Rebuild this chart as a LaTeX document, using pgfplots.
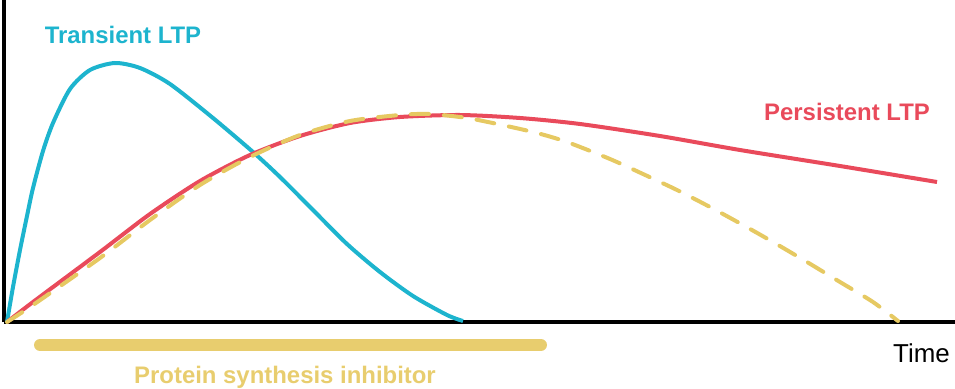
\documentclass[border=0pt]{standalone}
\usepackage{fontspec}
\setmainfont{Liberation Sans}
\usepackage{pgfplots}
\pgfplotsset{compat=1.18}
\definecolor{cyanc}{HTML}{1DB4CE}
\definecolor{redc}{HTML}{E94A5B}
\definecolor{yelc}{HTML}{E6C962}
\definecolor{yelt}{HTML}{E8CD6E}
\begin{document}
\begin{tikzpicture}
\useasboundingbox (-4bp,-67bp) rectangle (951bp,322bp);
\begin{axis}[
  at={(0,0)}, anchor=south west,
  x=1bp, y=1bp,
  xmin=4, xmax=955, ymin=0, ymax=322,
  axis x line=bottom, axis y line=left,
  axis line style={-, line width=4bp, black},
  xtick=\empty, ytick=\empty,
  clip=false,
]
\addplot[cyanc, line width=4bp, smooth, tension=0.45] coordinates {
(7,0) (13,35) (20,72) (27,106) (33,134) (43,171) (53,199) (70,233) (90,252) (115,259) (140,254) (170,238) (213,204) (253,170) (280,145) (313,112) (347,78) (380,50) (413,26) (447,7) (463,1)
};
\addplot[redc, line width=4bp, smooth, tension=0.45] coordinates {
(7,0) (33,20) (100,70) (150,108) (200,141) (250,167) (300,186) (350,199) (400,205) (460,207) (520,204) (580,198) (660,186) (740,172) (840,156) (937,140)
};
\addplot[yelc, line width=4bp, smooth, tension=0.45, line cap=round, dash pattern=on 18bp off 15bp] coordinates {
(7,0) (33,17) (100,64) (150,102) (200,137) (250,165) (300,187) (350,201) (400,207) (430,208) (467,204) (502,197) (537,189) (567,180) (610,163) (643,148) (677,132) (710,115) (743,97) (773,80) (807,60) (840,40) (873,20) (898,1)
};
\addplot[yelt, line width=12bp, line cap=round] coordinates {(40,-23) (541,-23)};
\node[anchor=base, text=cyanc, font=\fontsize{24}{28}\selectfont\bfseries] at (axis cs:123,279) {Transient LTP};
\node[anchor=base, text=redc, font=\fontsize{24}{28}\selectfont\bfseries] at (axis cs:847,202) {Persistent LTP};
\node[anchor=base west, inner sep=0pt, text=black, font=\fontsize{26}{30}\selectfont] at (axis cs:893,-40) {Time};
\node[anchor=base, text=yelt, font=\fontsize{24}{28}\selectfont\bfseries] at (axis cs:285,-61) {Protein synthesis inhibitor};
\end{axis}
\end{tikzpicture}
\end{document}
